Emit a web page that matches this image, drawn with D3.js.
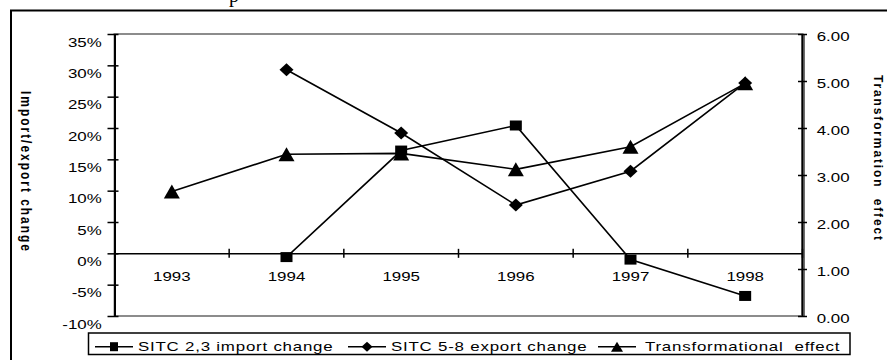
<!DOCTYPE html>
<html>
<head>
<meta charset="utf-8">
<title>Import/export change and transformation effect</title>
<script src="https://cdn.jsdelivr.net/npm/d3@7"></script>
<style>
    body { margin: 0; background: #fff; }
    #chart-area { width: 887px; height: 360px; }
    svg text { font-family: "Liberation Sans", Arial, sans-serif; fill: #000; }
</style>
</head>
<body>
<div id="chart-area"></div>
<script>
// chart data
const years = ["1993", "1994", "1995", "1996", "1997", "1998"];
const importChange = [null, -0.6, 16.4, 20.4, -1.0, -6.8];     // %
const exportChange = [null, 29.3, 19.2, 7.7, 13.1, 27.2];      // %
const transformEffect = [2.65, 3.44, 3.46, 3.12, 3.6, 4.95];   // right axis
const leftTicks = [-10, -5, 0, 5, 10, 15, 20, 25, 30, 35];
const rightTicks = [0, 1, 2, 3, 4, 5, 6];
const seriesNames = ["SITC 2,3 import change", "SITC 5-8 export change", "Transformational  effect"];
const leftTitle = "Import/export change";
const rightTitle = "Transformation  effect";

// marker shapes, centred on their bounding box
const markerPath = {
    square: (w, h) => `M${-w / 2},${-h / 2}h${w}v${h}h${-w}Z`,
    diamond: (w, h) => `M0,${-h / 2}L${w / 2},0L0,${h / 2}L${-w / 2},0Z`,
    triangle: (w, h) => `M0,${-h / 2}L${w / 2},${h / 2}L${-w / 2},${h / 2}Z`
};

// the source picture is stretched sideways, so text is widened too
function stretchText(sel, sx) {
    sel.each(function () {
        let t = d3.select(this);
        let x = +t.attr("x") || 0;
        t.attr("x", x / sx).attr("transform", `scale(${sx},1)`);
    });
}

class ComboChart {
    constructor(parentElement) {
        this.parentElement = parentElement;
        this.sx = 1.3;
        this.initVis();
    }

    initVis() {
        let vis = this;

        vis.width = 887;
        vis.height = 360;
        vis.plot = { left: 114.5, right: 802.5, top: 34, bottom: 316 };

        vis.svg = d3.select("#" + vis.parentElement).append("svg")
            .attr("width", vis.width)
            .attr("height", vis.height);

        vis.svg.append("rect")
            .attr("width", vis.width).attr("height", vis.height)
            .attr("fill", "#fff");

        // outer frame (runs off the right and bottom edge)
        vis.svg.append("rect")
            .attr("x", 11).attr("y", 10.5)
            .attr("width", 1000).attr("height", 1000)
            .attr("fill", "none")
            .attr("stroke", "#000")
            .attr("stroke-width", 2);

        // what is left of the title above the frame
        vis.svg.append("text")
            .attr("x", 229).attr("y", 2)
            .style("font-family", '"Liberation Serif", "Times New Roman", serif')
            .style("font-size", "20px")
            .text("p");

        // scales
        vis.x = d3.scaleBand()
            .domain(years)
            .range([vis.plot.left, vis.plot.right])
            .padding(0);

        vis.yLeft = d3.scaleLinear()
            .domain([-10, 35])
            .range([vis.plot.bottom, vis.plot.top]);

        vis.yRight = d3.scaleLinear()
            .domain([0, 6])
            .range([vis.plot.bottom, vis.plot.top]);

        // plot area border
        vis.svg.append("rect")
            .attr("x", vis.plot.left).attr("y", vis.plot.top)
            .attr("width", vis.plot.right - vis.plot.left)
            .attr("height", vis.plot.bottom - vis.plot.top)
            .attr("fill", "none")
            .attr("stroke", "#8c8c8c")
            .attr("stroke-width", 2);

        vis.wrangleData();
    }

    wrangleData() {
        let vis = this;

        vis.displayData = [
            { name: seriesNames[0], values: importChange, scale: vis.yLeft, marker: "square", size: [12, 10] },
            { name: seriesNames[1], values: exportChange, scale: vis.yLeft, marker: "diamond", size: [14, 13] },
            { name: seriesNames[2], values: transformEffect, scale: vis.yRight, marker: "triangle", size: [16, 14] }
        ].map(s => ({
            ...s,
            points: years.map((yr, i) => ({ year: yr, value: s.values[i] })).filter(p => p.value != null)
        }));

        vis.updateVis();
    }

    updateVis() {
        let vis = this;
        let cx = d => vis.x(d.year) + vis.x.bandwidth() / 2;
        let y0 = vis.yLeft(0);

        // left axis
        let left = vis.svg.append("g")
            .attr("class", "axis axis-left")
            .attr("transform", `translate(${vis.plot.left},0)`)
            .call(d3.axisLeft(vis.yLeft)
                .tickValues(leftTicks)
                .tickFormat(d => d + "%")
                .tickSizeInner(7)
                .tickSizeOuter(0));
        left.attr("font-size", 13).attr("font-family", null);
        left.select(".domain").attr("stroke", "#000").attr("stroke-width", 2);
        left.selectAll(".tick line").attr("x1", 4).attr("x2", -7).attr("stroke-width", 1.5);
        left.selectAll(".tick text").attr("x", -12.8).attr("y", 8);
        stretchText(left.selectAll(".tick text"), vis.sx);

        // right axis
        let right = vis.svg.append("g")
            .attr("class", "axis axis-right")
            .attr("transform", `translate(${vis.plot.right},0)`)
            .call(d3.axisRight(vis.yRight)
                .tickValues(rightTicks)
                .tickFormat(d3.format(".2f"))
                .tickSizeInner(5)
                .tickSizeOuter(0));
        right.attr("font-size", 13).attr("font-family", null);
        right.select(".domain").attr("stroke", "#6e6e6e").attr("stroke-width", 4);
        right.append("line")
            .attr("y1", vis.plot.top).attr("y2", vis.plot.bottom)
            .attr("stroke", "#000").attr("stroke-width", 1.5);
        right.selectAll(".tick line").attr("x1", -4.5).attr("x2", 4.5).attr("stroke-width", 1.5);
        right.selectAll(".tick text").attr("x", 14.2).attr("y", 2);
        stretchText(right.selectAll(".tick text"), vis.sx);

        // category axis sits on the 0% line
        let bottom = vis.svg.append("g")
            .attr("class", "axis axis-x")
            .attr("transform", `translate(0,${y0})`)
            .call(d3.axisBottom(vis.x)
                .tickSizeInner(0)
                .tickSizeOuter(0)
                .tickPadding(18.5));
        bottom.attr("font-size", 13).attr("font-family", null);
        bottom.select(".domain").attr("stroke", "#000").attr("stroke-width", 1.5);
        stretchText(bottom.selectAll(".tick text"), vis.sx);

        // tick marks between categories
        let bounds = years.slice(1).map(d => vis.x(d)).concat([vis.x.range()[1]]);
        bottom.selectAll(".cat-tick")
            .data(bounds)
            .enter().append("line")
            .attr("class", "cat-tick")
            .attr("x1", d => d).attr("x2", d => d)
            .attr("y1", -4.5).attr("y2", 4.5)
            .attr("stroke", "#000")
            .attr("stroke-width", 1.5);

        // axis titles
        vis.svg.append("text")
            .attr("transform", `translate(21,171) scale(1.25,1) rotate(90)`)
            .attr("text-anchor", "middle")
            .attr("font-weight", "bold")
            .attr("font-size", 12)
            .attr("textLength", 160)
            .attr("lengthAdjust", "spacing")
            .style("white-space", "pre")
            .text(leftTitle);

        vis.svg.append("text")
            .attr("transform", `translate(874,157.5) scale(1.1,1) rotate(90)`)
            .attr("text-anchor", "middle")
            .attr("font-weight", "bold")
            .attr("font-size", 12)
            .attr("textLength", 165)
            .attr("lengthAdjust", "spacing")
            .style("white-space", "pre")
            .text(rightTitle);

        // series lines
        let series = vis.svg.selectAll(".series")
            .data(vis.displayData)
            .enter().append("g")
            .attr("class", "series");

        series.append("path")
            .attr("fill", "none")
            .attr("stroke", "#000")
            .attr("stroke-width", 1.6)
            .attr("d", s => d3.line()
                .x(cx)
                .y(d => s.scale(d.value))(s.points));

        // markers
        series.each(function (s) {
            d3.select(this).selectAll(".marker")
                .data(s.points)
                .enter().append("path")
                .attr("class", "marker")
                .attr("transform", d => `translate(${cx(d)},${s.scale(d.value)})`)
                .attr("d", markerPath[s.marker](s.size[0], s.size[1]))
                .attr("fill", "#000");
        });

        // legend
        let legend = vis.svg.append("g").attr("class", "legend");
        legend.append("rect")
            .attr("x", 88.5).attr("y", 333)
            .attr("width", 761.5).attr("height", 21.5)
            .attr("fill", "#fff")
            .attr("stroke", "#000")
            .attr("stroke-width", 1.5);

        let legendX = [95, 348, 598];
        let legendSize = [[8, 9], [11, 10], [12, 10]];
        let ly = 346.7;
        let items = legend.selectAll(".legend-item")
            .data(vis.displayData)
            .enter().append("g")
            .attr("class", "legend-item")
            .attr("transform", (d, i) => `translate(${legendX[i]},0)`);

        items.append("line")
            .attr("x1", 0).attr("x2", 38)
            .attr("y1", ly).attr("y2", ly)
            .attr("stroke", "#000")
            .attr("stroke-width", 1.6);

        items.append("path")
            .attr("transform", `translate(19,${ly})`)
            .attr("d", (d, i) => markerPath[d.marker](legendSize[i][0], legendSize[i][1]))
            .attr("fill", "#000");

        items.append("text")
            .attr("x", (d, i) => i === 2 ? 47 : 43)
            .attr("y", 351.5)
            .attr("font-size", 13)
            .attr("letter-spacing", 0.6)
            .style("white-space", "pre")
            .text(d => d.name);
        stretchText(items.selectAll("text"), vis.sx);
    }
}

new ComboChart("chart-area");
</script>
</body>
</html>
